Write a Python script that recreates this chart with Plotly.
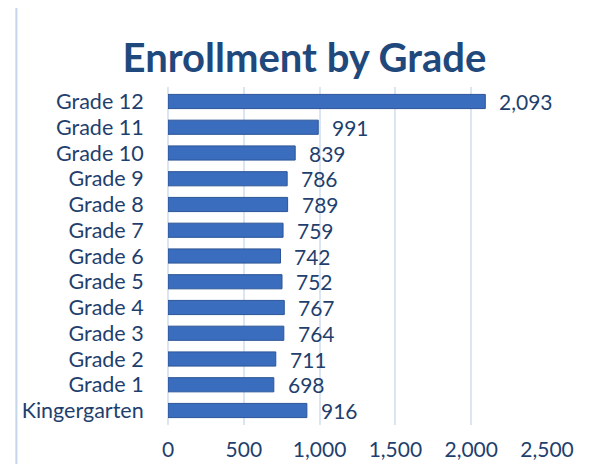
import plotly.graph_objects as go

grades = ['Kingergarten', 'Grade 1', 'Grade 2', 'Grade 3', 'Grade 4', 'Grade 5', 'Grade 6',
          'Grade 7', 'Grade 8', 'Grade 9', 'Grade 10', 'Grade 11', 'Grade 12']
enrollment = [916, 698, 711, 764, 767, 752, 742, 759, 789, 786, 839, 991, 2093]
x_ticks = [0, 500, 1000, 1500, 2000, 2500]

dark_blue = '#1F3F6E'
bar_blue = '#3A6DBE'
grid_blue = '#DCE6F2'
font_name = 'Lato'

fig = go.Figure()
fig.add_trace(go.Bar(
    y=grades, x=enrollment, orientation='h',
    marker=dict(color=bar_blue, line=dict(color='#2C5597', width=1)),
    hoverinfo='x+y',
))

# data labels, shifted right of the bar ends
for g, v in zip(grades, enrollment):
    fig.add_annotation(x=v, y=g, text=f'{v:,}', showarrow=False,
                       xanchor='left', xshift=12, yshift=0,
                       font=dict(family=font_name, size=21, color=dark_blue))

# the page adds an 8px body margin, so the figure is drawn 8px down/right
fig.update_layout(
    width=593, height=464,
    margin=dict(l=160, r=54, t=79, b=47),
    paper_bgcolor='white', plot_bgcolor='white',
    showlegend=False,
    bargap=0.45,
    title=dict(text='<b>Enrollment by Grade</b>', x=0.5, xanchor='center',
               y=0.892, yanchor='middle',
               font=dict(family=font_name, size=40, color='#1F497D')),
    font=dict(family=font_name, size=21, color=dark_blue),
)
fig.update_xaxes(range=[0, 2500], tickvals=x_ticks, tickformat=',',
                 showgrid=True, gridcolor=grid_blue, gridwidth=2,
                 zeroline=True, zerolinecolor=grid_blue, zerolinewidth=2,
                 ticks='outside', ticklen=6, tickcolor='rgba(0,0,0,0)',
                 showline=False, automargin=False,
                 tickfont=dict(size=21, color=dark_blue))
fig.update_yaxes(tickmode='array', tickvals=grades, ticktext=grades,
                 ticks='outside', ticklen=19, tickcolor='rgba(0,0,0,0)',
                 showgrid=False, showline=False, automargin=False,
                 tickfont=dict(size=21.5, color=dark_blue))

# chart frame (light blue border at left and right)
fig.add_shape(type='rect', xref='paper', yref='paper', x0=-0.4, x1=1.11, y0=-0.2, y1=1.3,
              line=dict(color='#C5D5EA', width=2), layer='below')

fig.write_html("out.html")
